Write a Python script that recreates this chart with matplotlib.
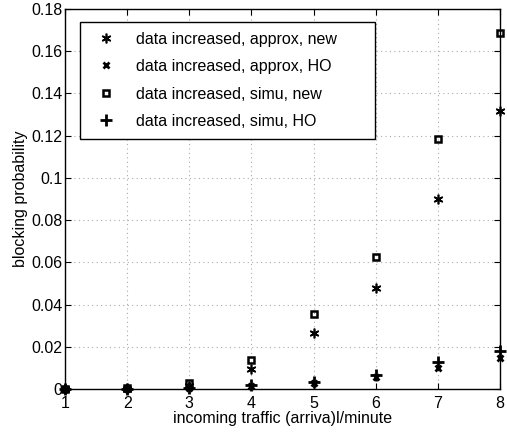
import numpy as np
import matplotlib
matplotlib.use("Agg")
import matplotlib.pyplot as plt

plt.rcParams["font.family"] = ["Liberation Sans", "DejaVu Sans"]

traffic = [1, 2, 3, 4, 5, 6, 7, 8]
approx_new = [0.0, 0.0002, 0.0012, 0.0095, 0.0265, 0.0477, 0.0902, 0.1317]
approx_ho = [0.0, 0.0001, 0.0003, 0.0012, 0.0030, 0.0058, 0.0100, 0.0145]
simu_new = [0.0, 0.0003, 0.0030, 0.0137, 0.0355, 0.0625, 0.1185, 0.1686]
simu_ho = [0.0, 0.0002, 0.0006, 0.0019, 0.0034, 0.0067, 0.0128, 0.0180]

labels = [
    "data increased, approx, new",
    "data increased, approx, HO",
    "data increased, simu, new",
    "data increased, simu, HO",
]

fs = 11.5
fig = plt.figure(figsize=(5.07, 4.32), dpi=100)
ax = fig.add_axes([65 / 507, 43 / 432, 435 / 507, 380 / 432])

kw = dict(ls="none", color="k", clip_on=False, zorder=5)
ax.plot(traffic, approx_new, marker=(6, 2, 0), ms=7, mew=1.2, label=labels[0], **kw)
ax.plot(traffic, approx_ho, marker="x", ms=5, mew=2.0, label=labels[1], **kw)
ax.plot(traffic, simu_new, marker="s", ms=5, mew=1.8, mfc="none", label=labels[2], **kw)
ax.plot(traffic, simu_ho, marker="+", ms=8, mew=2.0, label=labels[3], **kw)

ax.set_xlim(1, 8)
ax.set_ylim(0, 0.18)
ax.set_xticks(traffic)
ax.set_yticks(np.arange(0, 0.181, 0.02))
ax.set_yticklabels(["0", "0.02", "0.04", "0.06", "0.08", "0.1", "0.12", "0.14", "0.16", "0.18"])
ax.grid(True, color="#aaaaaa", linestyle=(0, (1, 3)), linewidth=0.8)
ax.tick_params(direction="in", top=True, right=True, labelsize=fs, length=4)
ax.tick_params(axis="x", pad=5)
ax.tick_params(axis="y", pad=2)
for s in ax.spines.values():
    s.set_linewidth(1.0)

ax.set_xlabel("incoming traffic (arriva)l/minute", fontsize=fs, labelpad=0)
ax.set_ylabel("blocking probability", fontsize=fs, labelpad=2)

leg = ax.legend(loc="upper left",
                bbox_to_anchor=(80 / 507, 1 - 136 / 432, 295 / 507, 114 / 432),
                bbox_transform=fig.transFigure, mode="expand", fontsize=fs,
                frameon=True, fancybox=False, edgecolor="k", framealpha=1,
                handlelength=2.0, borderpad=0.6, labelspacing=0.78, handletextpad=0.9,
                borderaxespad=0)
leg.get_frame().set_linewidth(1.0)

fig.savefig("out.png", dpi=100)
